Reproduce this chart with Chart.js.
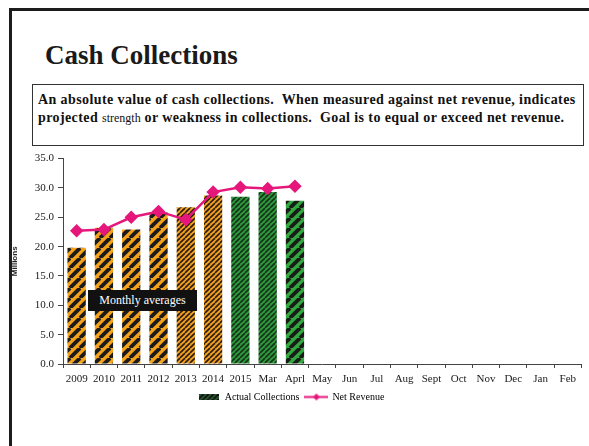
<!DOCTYPE html>
<html>
<head>
<meta charset="utf-8">
<script src="https://cdn.jsdelivr.net/npm/chart.js@4.4.1/dist/chart.umd.min.js"></script>
<style>
    body { margin: 0; background: #fff; width: 589px; height: 446px; overflow: hidden; position: relative; font-family: "Liberation Serif", "DejaVu Serif", serif; }
    .frame { position: absolute; left: 9px; top: 8px; width: 600px; height: 460px; border-left: 3px solid #1c1c1c; border-top: 3px solid #1c1c1c; }
    .titulo { position: absolute; left: 45px; top: 42px; font-size: 27px; font-weight: bold; color: #1a1a1a; line-height: 1; }
    .descricao { position: absolute; left: 32px; top: 84px; width: 545px; height: 54px; border: 1px solid #333; padding: 6px 0 0 5px; font-size: 14px; letter-spacing: 0.4px; font-weight: bold; line-height: 18px; color: #111; white-space: nowrap; }
    .descricao .menor { font-weight: normal; font-size: 12px; letter-spacing: 0; }
    .caixaMedia { position: absolute; left: 88px; top: 290px; width: 109px; height: 21px; background: #111; color: #fff; font-size: 12px; line-height: 21px; text-align: center; }
    #graficoCaixa { position: absolute; left: 0; top: 148px; }
</style>
</head>
<body>
<div class="frame"></div>
<div class="titulo">Cash Collections</div>
<div class="descricao">An absolute value of cash collections.&nbsp; When measured against net revenue, indicates<br>projected <span class="menor">strength</span> or weakness in collections.&nbsp; Goal is to equal or exceed net revenue.</div>
<canvas id="graficoCaixa" width="589" height="264"></canvas>
<div class="caixaMedia">Monthly averages</div>

<script>
// Eixo X: anos (médias mensais) e meses do ano fiscal
const labels = ['2009', '2010', '2011', '2012', '2013', '2014', '2015', 'Mar', 'Aprl', 'May', 'Jun', 'Jul', 'Aug', 'Sept', 'Oct', 'Nov', 'Dec', 'Jan', 'Feb'];

// Valores em milhões
const dadosColetas = [19.8, 23.2, 22.9, 25.8, 26.7, 28.7, 28.5, 29.3, 27.8];
const dadosReceita = [22.7, 22.9, 25.0, 26.0, 24.6, 29.3, 30.1, 29.9, 30.3];

// Estilo da hachura de cada barra
const tipoHachura = ['laranjaGrossa', 'laranjaGrossa', 'laranjaGrossa', 'laranjaGrossa', 'laranjaFina', 'laranjaFina', 'verdeFina', 'verdeFina', 'verdeGrossa'];

const yTicks = [0, 5, 10, 15, 20, 25, 30, 35];

const corLinha = '#E5177B';

// cria uma textura com listras diagonais "/"
function criarHachura(fundo, listra, periodo, espessura) {
    const c = document.createElement('canvas');
    c.width = periodo;
    c.height = periodo;
    const g = c.getContext('2d');
    g.fillStyle = fundo;
    g.fillRect(0, 0, periodo, periodo);
    g.strokeStyle = listra;
    g.lineWidth = espessura;
    for (let k = -1; k <= 1; k++) {
        g.beginPath();
        g.moveTo(k * periodo, periodo);
        g.lineTo(k * periodo + periodo, 0);
        g.stroke();
    }
    return g.createPattern(c, 'repeat');
}

const hachuras = {
    laranjaGrossa: criarHachura('#F6A31C', '#1b1b1b', 10, 3.8),
    laranjaFina: criarHachura('#F2A020', '#2a1b10', 5, 1.6),
    verdeFina: criarHachura('#2E9B3C', '#16301a', 5, 1.6),
    verdeGrossa: criarHachura('#33A840', '#161d16', 10, 3.8)
};

// ícones da legenda
function iconeBarra() {
    const c = document.createElement('canvas');
    c.width = 20;
    c.height = 6;
    const g = c.getContext('2d');
    g.fillStyle = criarHachura('#2b5a30', '#111', 5, 1.8);
    g.fillRect(0, 0, 20, 6);
    return c;
}

function iconeLinha() {
    const c = document.createElement('canvas');
    c.width = 24;
    c.height = 9;
    const g = c.getContext('2d');
    g.strokeStyle = corLinha;
    g.lineWidth = 2;
    g.beginPath();
    g.moveTo(0, 4.5);
    g.lineTo(24, 4.5);
    g.stroke();
    g.fillStyle = corLinha;
    g.beginPath();
    g.moveTo(12, 1);
    g.lineTo(15.5, 4.5);
    g.lineTo(12, 8);
    g.lineTo(8.5, 4.5);
    g.closePath();
    g.fill();
    return c;
}

const fonteSerif = "'Liberation Serif', 'DejaVu Serif', serif";
const ctx = document.getElementById('graficoCaixa');

const chart = new Chart(ctx, {
    type: 'bar',
    data: {
        labels: labels,
        datasets: [{
            type: 'line',
            label: 'Net Revenue',
            data: dadosReceita,
            borderColor: corLinha,
            backgroundColor: corLinha,
            borderWidth: 2.5,
            pointStyle: 'rectRot',
            pointRadius: 5,
            pointBackgroundColor: corLinha,
            pointBorderColor: corLinha,
            tension: 0,
            order: 0
        }, {
            label: 'Actual Collections',
            data: dadosColetas,
            backgroundColor: tipoHachura.map(t => hachuras[t]),
            borderWidth: 0,
            categoryPercentage: 1,
            barPercentage: 0.67,
            order: 1
        }]
    },
    options: {
        responsive: false,
        animation: false,
        layout: {
            padding: { top: 9, right: 7, left: 0, bottom: 0 }
        },
        scales: {
            x: {
                grid: { display: true, drawOnChartArea: false, tickLength: 4, color: '#444', offset: true },
                border: { color: '#444' },
                ticks: { color: '#1a1a1a', font: { family: fonteSerif, size: 11 }, padding: 5, maxRotation: 0, autoSkip: false },
                afterFit: (scale) => { scale.height = 22; }
            },
            y: {
                min: 0,
                max: 35,
                afterBuildTicks: (scale) => { scale.ticks = yTicks.map(v => ({ value: v })); },
                grid: { display: true, drawOnChartArea: false, tickLength: 5, color: '#444' },
                border: { color: '#444' },
                ticks: {
                    color: '#1a1a1a',
                    font: { family: fonteSerif, size: 11 },
                    padding: 4,
                    callback: (v) => Number(v).toFixed(1)
                },
                title: {
                    display: true,
                    text: 'Millions',
                    color: '#222',
                    font: { family: "'Liberation Sans', Arial, sans-serif", size: 8, weight: 'bold' },
                    padding: { top: 10, bottom: 0 }
                },
                afterFit: (scale) => { scale.width = 63; }
            }
        },
        plugins: {
            tooltip: { enabled: false },
            legend: {
                position: 'bottom',
                labels: {
                    color: '#1a1a1a',
                    font: { family: fonteSerif, size: 10 },
                    usePointStyle: true,
                    pointStyleWidth: 22,
                    boxHeight: 8,
                    padding: 6,
                    generateLabels: () => [
                        { text: 'Actual Collections', pointStyle: iconeBarra(), fillStyle: '#2b5a30', strokeStyle: 'transparent', lineWidth: 0, datasetIndex: 1 },
                        { text: 'Net Revenue', pointStyle: iconeLinha(), fillStyle: corLinha, strokeStyle: 'transparent', lineWidth: 0, datasetIndex: 0 }
                    ]
                }
            }
        }
    }
});
</script>
</body>
</html>
